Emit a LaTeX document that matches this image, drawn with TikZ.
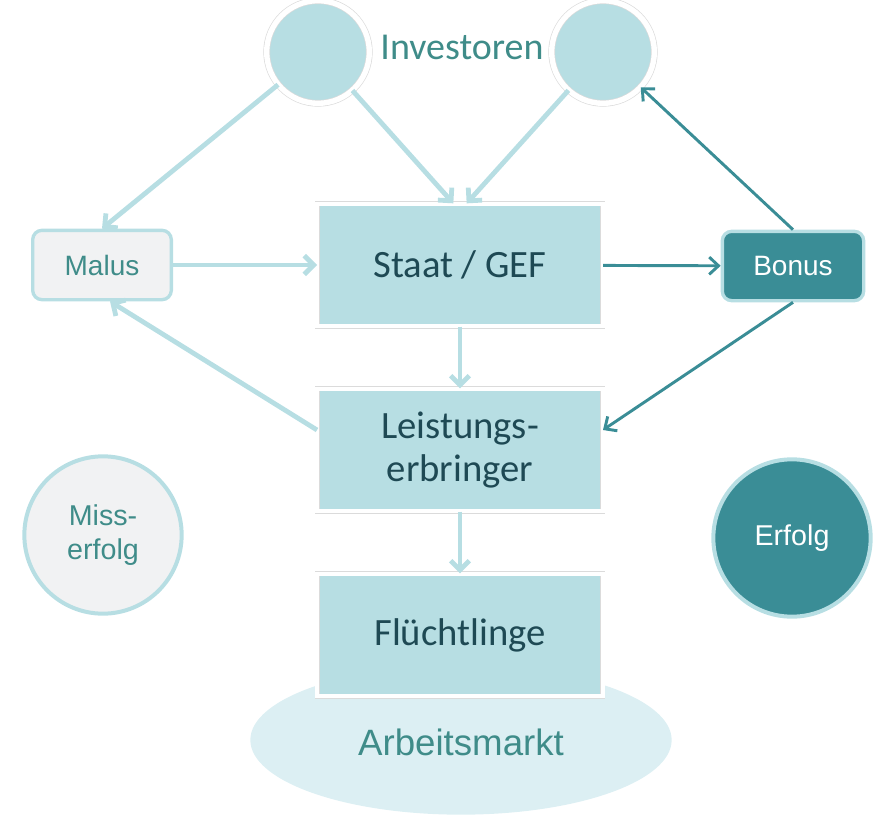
\documentclass[tikz,border=0pt]{standalone}
\usepackage{fontspec}
\setmainfont{Carlito}
\newfontfamily\arialfont{Liberation Sans}
\usetikzlibrary{shapes.geometric, arrows.meta, shadows, calc}
\definecolor{lightteal}{HTML}{B7DEE3}
\definecolor{paleteal}{HTML}{DCEFF3}
\definecolor{darkteal}{HTML}{3A8D96}
\definecolor{boxtext}{HTML}{1E4954}
\definecolor{softtext}{HTML}{3F8C89}
\definecolor{palegray}{HTML}{F1F2F3}

\begin{document}
\begin{tikzpicture}[x=0.75pt, y=-0.75pt, node distance=138.75pt]
%
% Styles
\tikzstyle{mainbox} = [rectangle, minimum width=214pt, minimum height=92pt, text centered, draw=black!14, line width=0.5pt, double=white, double distance=3pt, fill=lightteal, align=center, text=boxtext, font=\fontsize{29}{32}\selectfont, drop shadow={shadow xshift=1.5pt, shadow yshift=2pt, opacity=0.3, fill=black!50}]
\tikzstyle{investor} = [circle, minimum size=77pt, draw=black!14, line width=0.5pt, double=white, double distance=4pt, fill=lightteal, drop shadow={shadow xshift=1pt, shadow yshift=2pt, opacity=0.3, fill=black!50}]
\tikzstyle{malusbox} = [rectangle, rounded corners=7pt, minimum width=104pt, minimum height=52pt, draw=lightteal, line width=2.5pt, fill=palegray, text=softtext, font=\arialfont\fontsize{21}{25}\selectfont]
\tikzstyle{bonusbox} = [rectangle, rounded corners=7pt, minimum width=106pt, minimum height=52pt, draw=lightteal, line width=2.5pt, fill=darkteal, text=white, font=\arialfont\fontsize{21}{25}\selectfont]
\tikzstyle{outcome} = [circle, minimum size=118pt, line width=3pt, align=center, font=\arialfont\fontsize{21.5}{26}\selectfont]
\tikzstyle{lightarrow} = [line width=3.6pt, draw=lightteal, -{Straight Barb[length=7pt, width=14pt]}]
\tikzstyle{darkarrow} = [line width=2.2pt, draw=darkteal, -{Straight Barb[length=7pt, width=13pt]}]
\useasboundingbox (0,0) rectangle (879,824);
% Nodes
\node (arbeit) [ellipse, minimum width=316pt, minimum height=112pt, fill=paleteal] at (461,740) {};
\node [text=softtext, font=\arialfont\fontsize{27.5}{32}\selectfont] at (461,742) {Arbeitsmarkt};
\node (staat) [mainbox] at (460,265) {Staat / GEF};
\node (leist) [mainbox, below of=staat] {Leistungs-\\erbringer};
\node (flucht) [mainbox, below of=leist] {Flüchtlinge};
\node (inv1) [investor] at (318,52) {};
\node (inv2) [investor] at (603,52) {};
\node (investoren) [text=softtext, font=\fontsize{28.5}{32}\selectfont] at (462,47) {Investoren};
\node (malus) [malusbox] at (102,265) {Malus};
\node (bonus) [bonusbox] at (793,266) {Bonus};
\node (miss) [outcome, draw=lightteal, fill=palegray, text=softtext] at (103,535) {Miss-\\erfolg};
\node (erfolg) [outcome, draw=lightteal, fill=darkteal, text=white] at (792,538) {Erfolg};
% Arrows
\draw [lightarrow] (inv1) -- (malus.north);
\draw [lightarrow] (inv1) -- ([xshift=-5pt]staat.north);
\draw [lightarrow] (inv2) -- ([xshift=5pt]staat.north);
\draw [lightarrow] (malus) -- (staat);
\draw [lightarrow] (staat) -- (leist);
\draw [lightarrow] (leist) -- (flucht);
\draw [lightarrow] ([yshift=15pt]leist.west) -- ([xshift=6pt]malus.south);
\draw [darkarrow] (staat) -- (bonus);
\draw [darkarrow] (bonus.north) -- (inv2);
\draw [darkarrow] (bonus.south) -- ([yshift=15pt]leist.east);
\end{tikzpicture}
\end{document}
